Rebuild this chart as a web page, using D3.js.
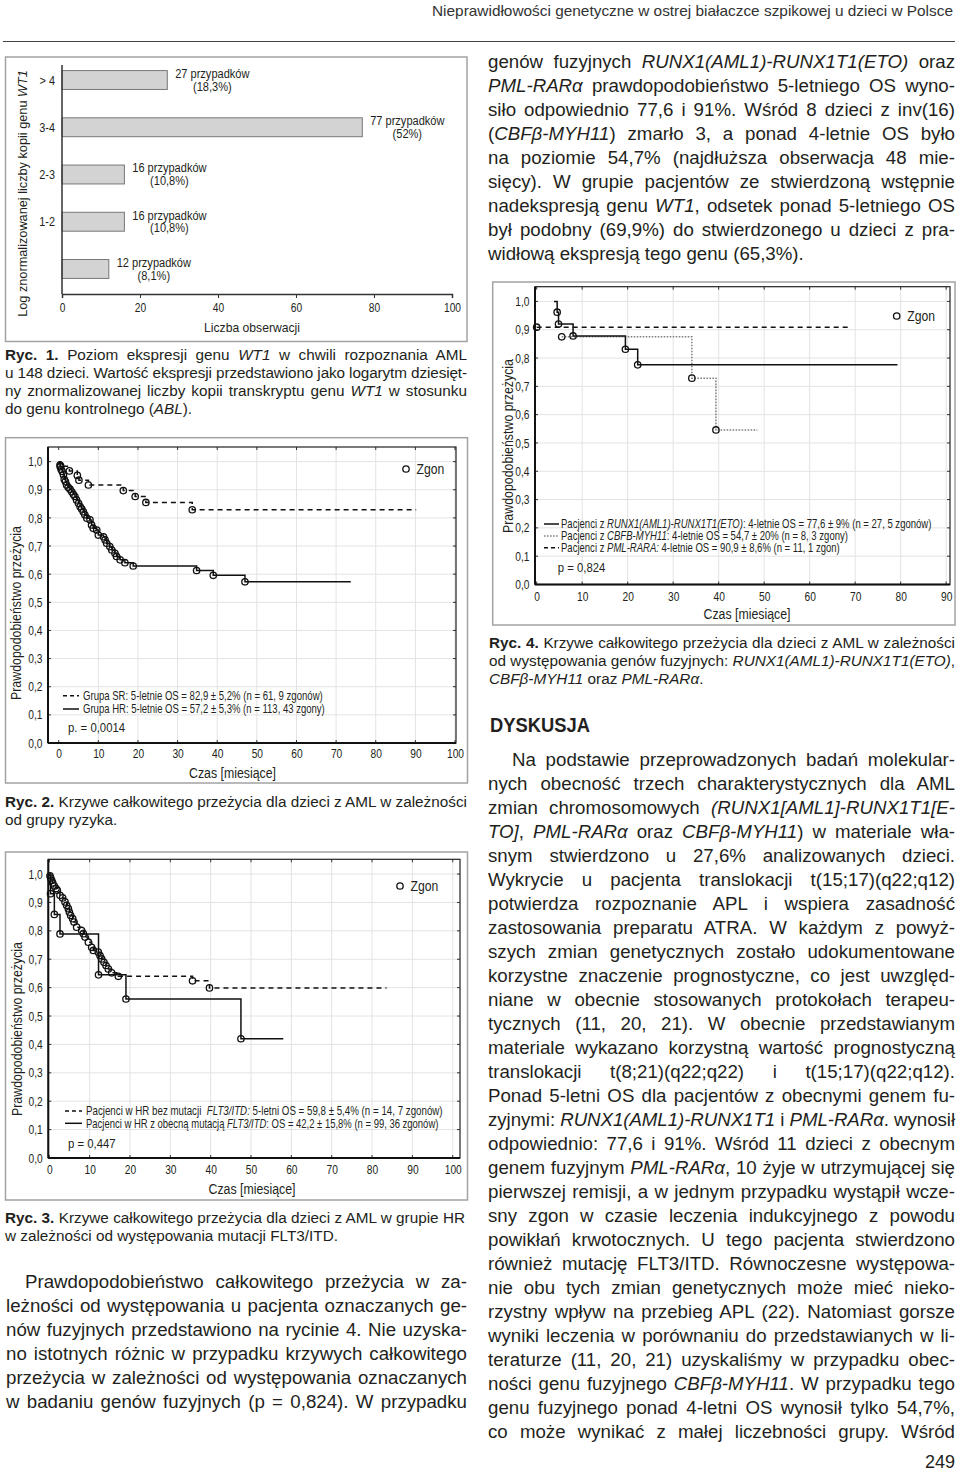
<!DOCTYPE html>
<html><head><meta charset="utf-8">
<script src="https://cdn.jsdelivr.net/npm/d3@7"></script>
<style>
html,body{margin:0;padding:0;background:#fff;}
body{width:960px;height:1473px;position:relative;overflow:hidden;font-family:"Liberation Sans",Arial,Helvetica,sans-serif;color:#231f20;}
.ln{position:absolute;white-space:nowrap;}
svg{position:absolute;left:0;top:0;}
</style></head><body>
<svg id="page" width="960" height="1473"></svg>
<script>
// ---------------- DATA ----------------
const headerTitle = "Nieprawidłowości genetyczne w ostrej białaczce szpikowej u dzieci w Polsce";
const pageNumber = "249";

// Fig 1
const wt1Categories = ["> 4", "3-4", "2-3", "1-2", ""];
const wt1Counts = [27, 77, 16, 16, 12];
const wt1Percent = ["(18,3%)", "(52%)", "(10,8%)", "(10,8%)", "(8,1%)"];
const wt1Ticks = [0, 20, 40, 60, 80, 100];

// Fig 2 (risk group)
const fig2SRTime = [0.5, 2.7, 4.7, 5.1, 7.5, 16.3, 19.3, 22.0, 33.7];
const fig2SRSurv = [0.984, 0.967, 0.951, 0.934, 0.917, 0.897, 0.876, 0.855, 0.829];
const fig2SREnd = 90.2;
const fig2HRTime = [0.33,0.4,0.6,0.9,1.2,1.4,1.7,2.0,2.4,2.85,3.3,3.7,4.1,4.5,5.0,5.4,5.8,6.2,6.6,7.1,7.9,8.3,8.7,9.6,10.0,11.3,11.7,12.1,12.9,13.4,14.2,14.6,15.5,16.7,18.8,34.8,39.0,47.0];
const fig2HRSurv = [0.988,0.982,0.973,0.965,0.953,0.937,0.929,0.917,0.909,0.902,0.893,0.884,0.876,0.864,0.852,0.840,0.832,0.822,0.811,0.799,0.793,0.775,0.763,0.757,0.739,0.733,0.722,0.710,0.698,0.686,0.674,0.663,0.651,0.641,0.629,0.613,0.596,0.573];
const fig2HREnd = 73.7;

// Fig 3 (FLT3/ITD)
const fig3NoMutTime = [0.3, 1.25, 2.65, 12.2, 19.0, 47.5];
const fig3NoMutSurv = [0.931, 0.858, 0.789, 0.645, 0.560, 0.420];
const fig3NoMutEnd = 58.0;
const fig3MutTime = [0.17,0.34,0.59,0.84,1.25,1.66,1.99,2.65,3.31,3.89,4.30,4.72,4.97,5.30,5.79,6.12,6.78,8.02,8.44,8.85,9.68,10.50,10.92,12.15,12.57,12.98,13.56,14.06,14.63,15.46,17.11,35.5,39.7];
const fig3MutSurv = [0.994,0.986,0.978,0.969,0.958,0.949,0.943,0.925,0.916,0.902,0.890,0.878,0.866,0.854,0.843,0.831,0.813,0.801,0.790,0.778,0.760,0.742,0.731,0.725,0.713,0.701,0.689,0.678,0.666,0.652,0.640,0.624,0.599];
const fig3MutEnd = 83.6;

// Fig 4 (fusion genes)
const fig4RunxStart = 3.8;
const fig4RunxTime = [4.5, 4.8, 8.0, 19.5, 22.2];
const fig4RunxSurv = [0.962, 0.920, 0.878, 0.831, 0.776];
const fig4RunxEnd = 79.3;
const fig4CbfbTime = [5.5, 34.1, 39.4];
const fig4CbfbSurv = [0.875, 0.729, 0.546];
const fig4CbfbEnd = 48.5;
const fig4PmlTime = [0.0];
const fig4PmlSurv = [0.909];
const fig4PmlEnd = 69.0;

const survTicks = [0,0.1,0.2,0.3,0.4,0.5,0.6,0.7,0.8,0.9,1.0];
const monthTicks100 = [0,10,20,30,40,50,60,70,80,90,100];
const monthTicks90 = [0,10,20,30,40,50,60,70,80,90];

// Texts
const rightTopLines = [
 "genów fuzyjnych <i>RUNX1(AML1)-RUNX1T1(ETO)</i> oraz",
 "<i>PML-RARα</i> prawdopodobieństwo 5-letniego OS wyno-",
 "siło odpowiednio 77,6 i 91%. Wśród 8 dzieci z inv(16)",
 "(<i>CBFβ-MYH11</i>) zmarło 3, a ponad 4-letnie OS było",
 "na poziomie 54,7% (najdłuższa obserwacja 48 mie-",
 "sięcy). W grupie pacjentów ze stwierdzoną wstępnie",
 "nadekspresją genu <i>WT1</i>, odsetek ponad 5-letniego OS",
 "był podobny (69,9%) do stwierdzonego u dzieci z pra-",
 "widłową ekspresją tego genu (65,3%)."
];
const leftBottomLines = [
 "Prawdopodobieństwo całkowitego przeżycia w za-",
 "leżności od występowania u pacjenta oznaczanych ge-",
 "nów fuzyjnych przedstawiono na rycinie 4. Nie uzyska-",
 "no istotnych różnic w przypadku krzywych całkowitego",
 "przeżycia w zależności od występowania oznaczanych",
 "w badaniu genów fuzyjnych (p = 0,824). W przypadku"
];
const discussionTitle = "DYSKUSJA";
const discussionLines = [
 "Na podstawie przeprowadzonych badań molekular-",
 "nych obecność trzech charakterystycznych dla AML",
 "zmian chromosomowych <i>(RUNX1[AML1]-RUNX1T1[E-</i>",
 "<i>TO]</i>, <i>PML-RARα</i> oraz <i>CBFβ-MYH11</i>) w materiale wła-",
 "snym stwierdzono u 27,6% analizowanych dzieci.",
 "Wykrycie u pacjenta translokacji t(15;17)(q22;q12)",
 "potwierdza rozpoznanie APL i wspiera zasadność",
 "zastosowania preparatu ATRA. W każdym z powyż-",
 "szych zmian genetycznych zostało udokumentowane",
 "korzystne znaczenie prognostyczne, co jest uwzględ-",
 "niane w obecnie stosowanych protokołach terapeu-",
 "tycznych (11, 20, 21). W obecnie przedstawianym",
 "materiale wykazano korzystną wartość prognostyczną",
 "translokacji t(8;21)(q22;q22) i t(15;17)(q22;q12).",
 "Ponad 5-letni OS dla pacjentów z obecnymi genem fu-",
 "zyjnymi: <i>RUNX1(AML1)-RUNX1T1</i> i <i>PML-RARα</i>. wynosił",
 "odpowiednio: 77,6 i 91%. Wśród 11 dzieci z obecnym",
 "genem fuzyjnym <i>PML-RARα</i>, 10 żyje w utrzymującej się",
 "pierwszej remisji, a w jednym przypadku wystąpił wcze-",
 "sny zgon w czasie leczenia indukcyjnego z powodu",
 "powikłań krwotocznych. U tego pacjenta stwierdzono",
 "również mutację FLT3/ITD. Równoczesne występowa-",
 "nie obu tych zmian genetycznych może mieć nieko-",
 "rzystny wpływ na przebieg APL (22). Natomiast gorsze",
 "wyniki leczenia w porównaniu do przedstawianych w li-",
 "teraturze (11, 20, 21) uzyskaliśmy w przypadku obec-",
 "ności genu fuzyjnego <i>CBFβ-MYH11</i>. W przypadku tego",
 "genu fuzyjnego ponad 4-letni OS wynosił tylko 54,7%,",
 "co może wynikać z małej liczebności grupy. Wśród"
];
const caption1Lines = [
 "<b>Ryc. 1.</b> Poziom ekspresji genu <i>WT1</i> w chwili rozpoznania AML",
 "u 148 dzieci. Wartość ekspresji przedstawiono jako logarytm dziesięt-",
 "ny znormalizowanej liczby kopii transkryptu genu <i>WT1</i> w stosunku",
 "do genu kontrolnego (<i>ABL</i>)."
];
const caption2Lines = [
 "<b>Ryc. 2.</b> Krzywe całkowitego przeżycia dla dzieci z AML w zależności",
 "od grupy ryzyka."
];
const caption3Lines = [
 "<b>Ryc. 3.</b> Krzywe całkowitego przeżycia dla dzieci z AML w grupie HR",
 "w zależności od występowania mutacji FLT3/ITD."
];
const caption4Lines = [
 "<b>Ryc. 4.</b> Krzywe całkowitego przeżycia dla dzieci z AML w zależności",
 "od występowania genów fuzyjnych: <i>RUNX1(AML1)-RUNX1T1(ETO)</i>,",
 "<i>CBFβ-MYH11</i> oraz <i>PML-RARα</i>."
];

// ---------------- RENDER ----------------
const INK = "#231f20";
const FONT = '"Liberation Sans", Arial, Helvetica, sans-serif';
const loc = d3.formatLocale({decimal: ",", thousands: " ", grouping: [3], currency: ["", ""]});
const fmt1 = loc.format(".1f");
const svg = d3.select("#page").attr("font-family", FONT);

function squeeze(sel, ratio) {
  sel.each(function () {
    const w = this.getComputedTextLength();
    d3.select(this).attr("textLength", w * ratio).attr("lengthAdjust", "spacingAndGlyphs");
  });
}
function fitRuns(g, x, y, parts, size, width, anchor, rotate) {
  const t = g.append("text").attr("font-size", size).attr("fill", INK).attr("dy", "0.35em")
    .attr("text-anchor", anchor || "start");
  parts.forEach(p => t.append("tspan").attr("font-style", p[1] ? "italic" : null).text(p[0]));
  const nat = t.node().getComputedTextLength();
  const k = width / nat;
  t.attr("transform", `translate(${x},${y})` + (rotate ? ` rotate(${rotate})` : "") + ` scale(${k},1)`);
  return t;
}

// header
svg.append("text").attr("x", 432).attr("y", 16).attr("font-size", 15).attr("fill", "#333")
  .attr("textLength", 521).attr("lengthAdjust", "spacingAndGlyphs").text(headerTitle);
svg.append("line").attr("x1", 3).attr("x2", 955).attr("y1", 41.5).attr("y2", 41.5)
  .attr("stroke", "#444").attr("stroke-width", 1);

function block(lines, o) {
  lines.forEach((html, i) => {
    const indent = (i === 0 && o.indent) ? o.indent : 0;
    const div = d3.select("body").append("div").attr("class", "ln")
      .style("left", (o.left + indent) + "px")
      .style("top", (o.top + i * o.lh - o.lh / 2) + "px")
      .style("font-size", o.size + "px").style("line-height", o.lh + "px")
      .style("color", INK)
      .html(html);
    const node = div.node();
    const target = o.width - indent;
    const w = node.getBoundingClientRect().width;
    const justify = o.justifyLast || i < lines.length - 1;
    const txt = node.textContent;
    const spaces = (txt.match(/ /g) || []).length;
    if (w > target) {
      div.style("letter-spacing", ((target - w) / txt.length) + "px");
    } else if (justify && spaces) {
      div.style("word-spacing", ((target - w) / spaces) + "px");
    }
  });
}
block(rightTopLines, {left: 488, width: 467, top: 62, lh: 24, size: 18.7});
block(leftBottomLines, {left: 6, width: 461, top: 1282, lh: 24, size: 18.7, indent: 19, justifyLast: true});
block(discussionLines, {left: 488, width: 467, top: 760, lh: 24, size: 18.7, indent: 24, justifyLast: true});
block(caption1Lines, {left: 5, width: 462, top: 355, lh: 18, size: 15.3});
block(caption2Lines, {left: 5, width: 462, top: 802, lh: 18, size: 15.3});
block(caption3Lines, {left: 5, width: 460, top: 1218, lh: 18, size: 15.3});
block(caption4Lines, {left: 489, width: 466, top: 643, lh: 18, size: 15.3});

svg.append("text").attr("x", 490).attr("y", 731.5).attr("font-size", 20.5).attr("font-weight", "bold")
  .attr("fill", INK).attr("textLength", 100).attr("lengthAdjust", "spacingAndGlyphs").text(discussionTitle);
svg.append("text").attr("x", 955).attr("y", 1468).attr("text-anchor", "end").attr("font-size", 18)
  .attr("fill", INK).text(pageNumber);

// ---------- Fig 1 ----------
(function () {
  const g = svg.append("g");
  g.append("rect").attr("x", 5.5).attr("y", 57).attr("width", 461.5).attr("height", 284.5)
    .attr("fill", "none").attr("stroke", "#a3a3a3").attr("stroke-width", 1.5);
  const x = d3.scaleLinear().domain([0, 100]).range([62, 452]);
  const y = d3.scaleBand().domain(d3.range(wt1Counts.length)).range([56.4, 292.6]).paddingInner(0.6).paddingOuter(0.3);
  g.selectAll("rect.bar").data(wt1Counts).join("rect").attr("class", "bar")
    .attr("x", x(0)).attr("y", (d, i) => y(i)).attr("width", d => x(d) - x(0)).attr("height", y.bandwidth())
    .attr("fill", "#d3d3d3").attr("stroke", "#777").attr("stroke-width", 1);
  const lab = g.selectAll("g.lab").data(wt1Counts).join("g").attr("class", "lab")
    .attr("transform", (d, i) => `translate(${x(d) + 45},${y(i) + y.bandwidth() / 2})`);
  lab.append("text").attr("y", -6.3).attr("dy", "0.35em").attr("text-anchor", "middle").attr("font-size", 12)
    .attr("fill", INK).text(d => d + " przypadków").call(squeeze, 0.92);
  lab.append("text").attr("y", 6.5).attr("dy", "0.35em").attr("text-anchor", "middle").attr("font-size", 12)
    .attr("fill", INK).text((d, i) => wt1Percent[i]).call(squeeze, 0.92);
  const xa = g.append("g").attr("transform", "translate(0,294)")
    .call(d3.axisBottom(x).tickValues(wt1Ticks).tickSize(4).tickPadding(5));
  xa.select(".domain").attr("stroke", "#333").attr("stroke-width", 1.5);
  xa.selectAll(".tick line").attr("stroke", "#333");
  xa.selectAll("text").attr("font-size", 12.8).attr("fill", INK).attr("font-family", FONT).call(squeeze, 0.8);
  g.append("line").attr("x1", 62).attr("x2", 62).attr("y1", 65).attr("y2", 294).attr("stroke", "#333").attr("stroke-width", 1.5);
  g.selectAll("text.cat").data(wt1Categories).join("text").attr("class", "cat")
    .attr("x", 55).attr("y", (d, i) => y(i) + y.bandwidth() / 2).attr("dy", "0.35em").attr("text-anchor", "end")
    .attr("font-size", 12.8).attr("fill", INK).text(d => d).call(squeeze, 0.85);
  g.append("text").attr("x", 252).attr("y", 327).attr("dy", "0.35em").attr("text-anchor", "middle")
    .attr("font-size", 13.5).attr("fill", INK).text("Liczba obserwacji").call(squeeze, 0.9);
  fitRuns(g, 22, 193.5, [["Log znormalizowanej liczby kopii genu ", false], ["WT1", true]], 13.5, 247, "middle", -90);
})();

// ---------- KM chart helper ----------
const styles = {
  solid: {stroke: "#111", dash: null},
  dashed: {stroke: "#111", dash: "5,4"},
  dotted: {stroke: "#808080", dash: "1.6,1.4"}
};
function kmChart(c) {
  const g = svg.append("g");
  g.append("rect").attr("x", c.box[0]).attr("y", c.box[1]).attr("width", c.box[2] - c.box[0]).attr("height", c.box[3] - c.box[1])
    .attr("fill", "none").attr("stroke", "#a3a3a3").attr("stroke-width", 1.5);
  const x = d3.scaleLinear().domain(c.xDomain).range([c.plot.l, c.plot.r]);
  const y = d3.scaleLinear().domain([0, 1.052]).range([c.plot.b, c.plot.t]);
  g.selectAll("line.vg").data(c.xTicks.filter(v => v > 0)).join("line").attr("class", "vg")
    .attr("x1", d => x(d)).attr("x2", d => x(d)).attr("y1", c.plot.t).attr("y2", c.plot.b)
    .attr("stroke", "#e3e3e3").attr("stroke-width", 1);
  g.selectAll("line.hg").data(survTicks.filter(v => v > 0)).join("line").attr("class", "hg")
    .attr("x1", c.plot.l).attr("x2", c.plot.r).attr("y1", d => y(d)).attr("y2", d => y(d))
    .attr("stroke", "#e3e3e3").attr("stroke-width", 1);
  const tk = g.append("g").attr("stroke", "#333").attr("stroke-width", 1);
  c.xTicks.forEach(v => {
    tk.append("line").attr("x1", x(v)).attr("x2", x(v)).attr("y1", c.plot.b).attr("y2", c.plot.b - 3);
    tk.append("line").attr("x1", x(v)).attr("x2", x(v)).attr("y1", c.plot.t).attr("y2", c.plot.t + 3);
  });
  survTicks.forEach(v => {
    tk.append("line").attr("x1", c.plot.l).attr("x2", c.plot.l + 3).attr("y1", y(v)).attr("y2", y(v));
    tk.append("line").attr("x1", c.plot.r).attr("x2", c.plot.r - 3).attr("y1", y(v)).attr("y2", y(v));
  });
  g.append("rect").attr("x", c.plot.l).attr("y", c.plot.t).attr("width", c.plot.r - c.plot.l).attr("height", c.plot.b - c.plot.t)
    .attr("fill", "none").attr("stroke", "#222").attr("stroke-width", 1.2);
  g.append("line").attr("x1", c.plot.l).attr("x2", c.plot.r).attr("y1", c.plot.b).attr("y2", c.plot.b).attr("stroke", "#111").attr("stroke-width", 2);
  g.append("line").attr("x1", c.plot.l).attr("x2", c.plot.l).attr("y1", c.plot.t).attr("y2", c.plot.b).attr("stroke", "#111").attr("stroke-width", 2);
  const xa = g.append("g").attr("transform", `translate(0,${c.plot.b})`)
    .call(d3.axisBottom(x).tickValues(c.xTicks).tickSize(0).tickPadding(c.xPad));
  xa.select(".domain").remove();
  xa.selectAll("text").attr("font-size", 12.8).attr("fill", INK).attr("font-family", FONT).call(squeeze, 0.8);
  const ya = g.append("g").attr("transform", `translate(${c.plot.l},0)`)
    .call(d3.axisLeft(y).tickValues(survTicks).tickFormat(fmt1).tickSize(0).tickPadding(5.5));
  ya.select(".domain").remove();
  ya.selectAll("text").attr("font-size", 12.8).attr("fill", INK).attr("font-family", FONT).call(squeeze, 0.8);
  g.append("text").attr("x", c.xTitle[0]).attr("y", c.xTitle[1]).attr("dy", "0.35em").attr("text-anchor", "middle")
    .attr("font-size", 14).attr("fill", INK).text("Czas [miesiące]").call(squeeze, 0.88);
  g.append("text").attr("transform", `translate(${c.yTitle[0]},${c.yTitle[1]}) rotate(-90)`).attr("dy", "0.35em")
    .attr("text-anchor", "middle").attr("font-size", 14).attr("fill", INK)
    .attr("textLength", 174).attr("lengthAdjust", "spacingAndGlyphs").text("Prawdopodobieństwo przeżycia");
  const line = d3.line().x(d => x(d[0])).y(d => y(d[1])).curve(d3.curveStepAfter);
  c.series.forEach(s => {
    const pts = [];
    if (s.start) pts.push(s.start);
    s.time.forEach((t, i) => pts.push([t, s.surv[i]]));
    pts.push([s.end, s.surv[s.surv.length - 1]]);
    const st = styles[s.style];
    g.append("path").attr("d", line(pts)).attr("fill", "none").attr("stroke", st.stroke)
      .attr("stroke-width", 1.5).attr("stroke-dasharray", st.dash);
  });
  c.series.forEach(s => {
    g.selectAll(null).data(s.time.map((t, i) => [t, s.surv[i]])).join("circle")
      .attr("cx", d => x(d[0])).attr("cy", d => y(d[1])).attr("r", 3.2)
      .attr("fill", "none").attr("stroke", "#111").attr("stroke-width", 1.3);
  });
  g.append("circle").attr("cx", c.zgon[0]).attr("cy", c.zgon[1]).attr("r", 3.2).attr("fill", "none").attr("stroke", "#111").attr("stroke-width", 1.3);
  g.append("text").attr("x", c.zgon[0] + 10.5).attr("y", c.zgon[1]).attr("dy", "0.35em").attr("font-size", 14).attr("fill", INK).text("Zgon").call(squeeze, 0.87);
  c.legend.forEach(L => {
    const st = styles[L.style];
    g.append("line").attr("x1", L.sx[0]).attr("x2", L.sx[1]).attr("y1", L.y).attr("y2", L.y)
      .attr("stroke", st.stroke).attr("stroke-width", 1.5).attr("stroke-dasharray", L.dash || st.dash);
    fitRuns(g, L.tx, L.y, L.parts, 12, L.w, "start", 0);
  });
  g.append("text").attr("x", c.p[0]).attr("y", c.p[1]).attr("dy", "0.35em").attr("font-size", 13.2).attr("fill", INK).text(c.p[2]).call(squeeze, 0.86);
}

// ---------- Fig 2 ----------
kmChart({
  box: [5.5, 437.7, 467.5, 783], plot: {l: 48, r: 456, t: 447, b: 743},
  xDomain: [-2.7, 100.25], xTicks: monthTicks100, xPad: 5.5,
  xTitle: [232.5, 773], yTitle: [16, 613], zgon: [406, 469],
  series: [
    {time: fig2SRTime, surv: fig2SRSurv, end: fig2SREnd, start: [0, 1], style: "dashed"},
    {time: fig2HRTime, surv: fig2HRSurv, end: fig2HREnd, start: [0, 1], style: "solid"}
  ],
  legend: [
    {style: "dashed", sx: [63, 79], tx: 83, y: 695.7, w: 240, dash: "4,3",
     parts: [["Grupa SR: 5-letnie OS = 82,9 ± 5,2% (n = 61, 9 zgonów)", false]]},
    {style: "solid", sx: [63, 79], tx: 83, y: 709, w: 242,
     parts: [["Grupa HR: 5-letnie OS = 57,2 ± 5,3% (n = 113, 43 zgony)", false]]}
  ],
  p: [68, 727, "p. = 0,0014"]
});

// ---------- Fig 3 ----------
kmChart({
  box: [5.5, 852, 467.5, 1200], plot: {l: 48.3, r: 460, t: 859.3, b: 1158},
  xDomain: [-0.25, 101.8], xTicks: monthTicks100, xPad: 6.5,
  xTitle: [252, 1189], yTitle: [17, 1029], zgon: [400, 886],
  series: [
    {time: fig3MutTime, surv: fig3MutSurv, end: fig3MutEnd, start: [0, 1], style: "dashed"},
    {time: fig3NoMutTime, surv: fig3NoMutSurv, end: fig3NoMutEnd, start: [0, 1], style: "solid"}
  ],
  legend: [
    {style: "dashed", sx: [65, 82], tx: 86, y: 1111, w: 357, dash: "4,3",
     parts: [["Pacjenci w HR bez mutacji \u00a0", false], ["FLT3/ITD:", true], [" 5-letni OS = 59,8 ± 5,4% (n = 14, 7 zgonów)", false]]},
    {style: "solid", sx: [65, 82], tx: 86, y: 1123.3, w: 353,
     parts: [["Pacjenci w HR z obecną mutacją ", false], ["FLT3/ITD", true], [": OS = 42,2 ± 15,8% (n = 99, 36 zgonów)", false]]}
  ],
  p: [68, 1143, "p = 0,447"]
});

// ---------- Fig 4 ----------
kmChart({
  box: [492.7, 282, 955, 625], plot: {l: 535, r: 950, t: 286.7, b: 584.5},
  xDomain: [-0.37, 90.84], xTicks: monthTicks90, xPad: 7,
  xTitle: [747, 614], yTitle: [508, 446], zgon: [896.7, 316],
  series: [
    {time: fig4PmlTime, surv: fig4PmlSurv, end: fig4PmlEnd, start: null, style: "dashed"},
    {time: fig4CbfbTime, surv: fig4CbfbSurv, end: fig4CbfbEnd, start: null, style: "dotted"},
    {time: fig4RunxTime, surv: fig4RunxSurv, end: fig4RunxEnd, start: [fig4RunxStart, 1], style: "solid"}
  ],
  legend: [
    {style: "solid", sx: [544, 559], tx: 561, y: 524, w: 370.7,
     parts: [["Pacjenci z ", false], ["RUNX1(AML1)-RUNX1T1(ETO)", true], [": 4-letnie OS = 77,6 ± 9% (n = 27, 5 zgonów)", false]]},
    {style: "dotted", sx: [544, 559], tx: 561, y: 536, w: 287.3,
     parts: [["Pacjenci z ", false], ["CBFB-MYH11", true], [": 4-letnie OS = 54,7 ± 20% (n = 8, 3 zgony)", false]]},
    {style: "dashed", sx: [544, 559], tx: 561, y: 547.7, w: 279, dash: "4,3",
     parts: [["Pacjenci z ", false], ["PML-RARA:", true], [" 4-letnie OS = 90,9 ± 8,6% (n = 11, 1 zgon)", false]]}
  ],
  p: [557.7, 567.7, "p = 0,824"]
});
</script>
</body></html>
